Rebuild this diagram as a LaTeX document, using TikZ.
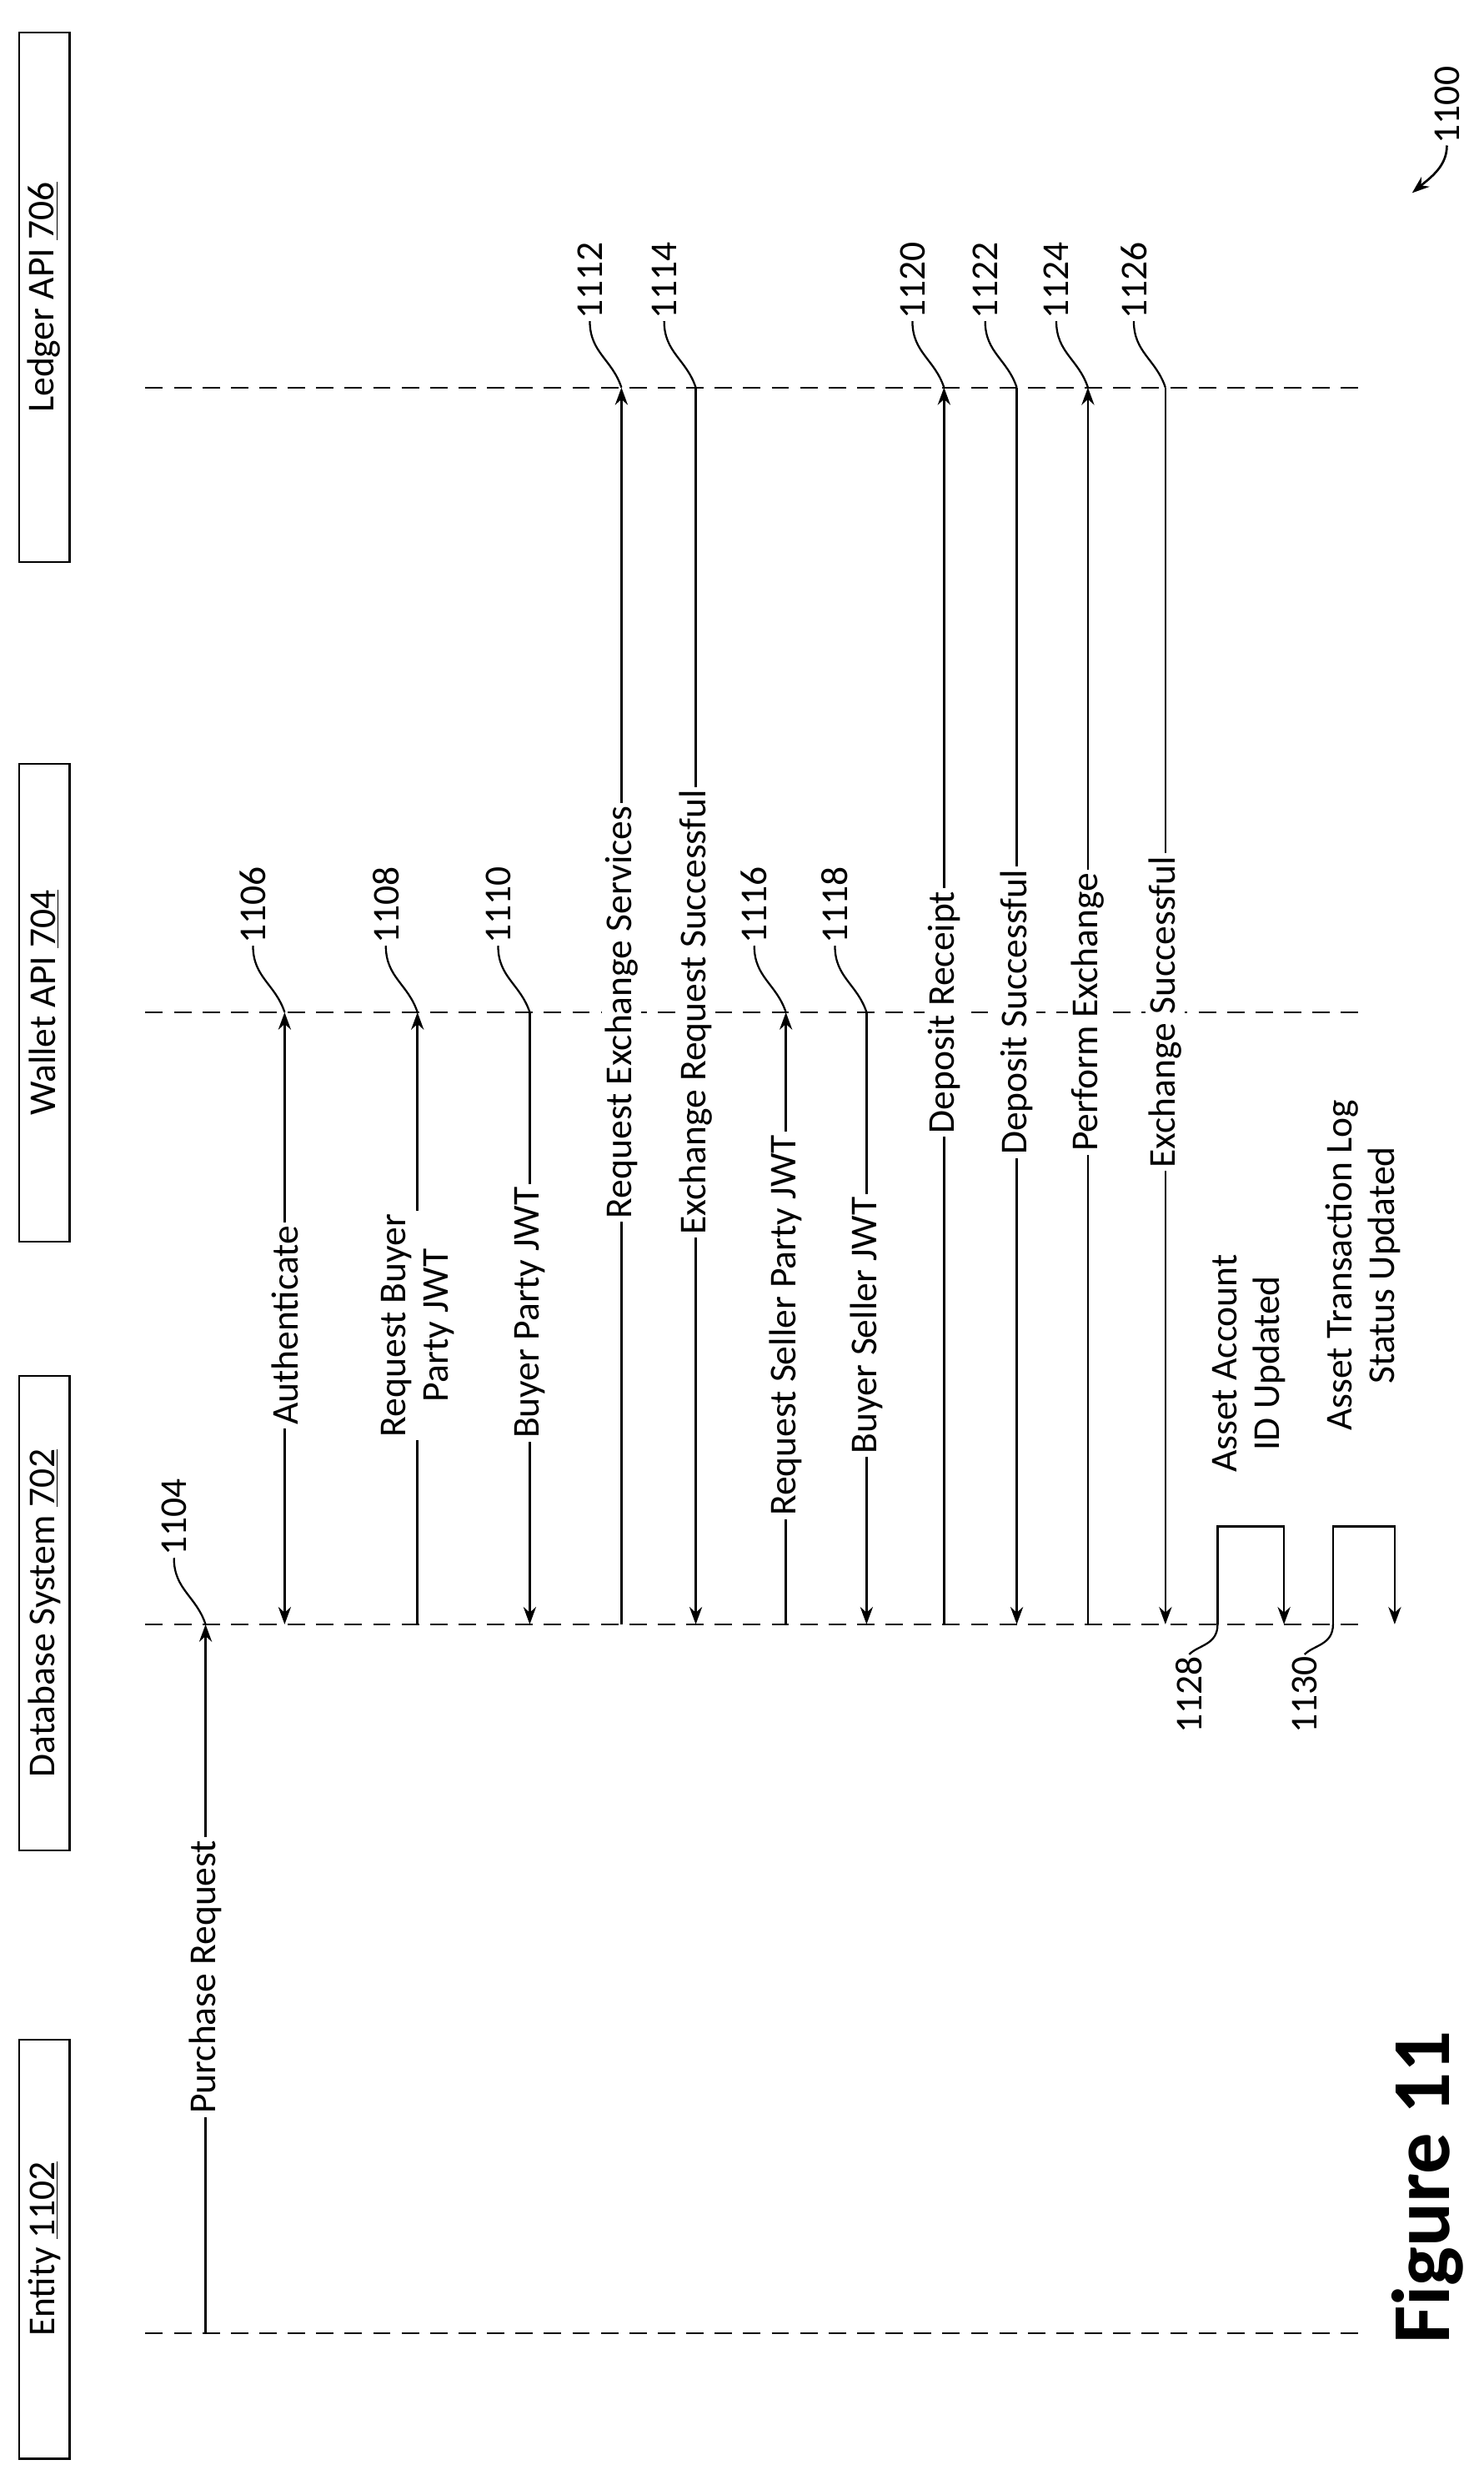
\documentclass[tikz,border=0pt]{standalone}
\usepackage{fontspec}
\setmainfont{Carlito}
\usetikzlibrary{arrows.meta}
\begin{document}
\begin{tikzpicture}[x=1pt,y=-1pt,
  life/.style={line width=1.2pt,dash pattern=on 11pt off 7pt},
  msg/.style={line width=1.4pt},
  arr/.style={-{Stealth[length=11pt,width=8pt]}},
  lab/.style={rotate=90,fill=white,inner sep=2pt,font=\fontsize{24}{27}\selectfont,align=center},
  num/.style={rotate=90,inner sep=1pt,font=\fontsize{24}{27}\selectfont},
  box/.style={rotate=90,draw,line width=1.2pt,minimum height=32pt,inner sep=3pt,font=\fontsize{24}{27}\selectfont}]
\useasboundingbox (0,0) rectangle (938,1568);
% boxes
\node[box,minimum width=335pt] (bL) at (28,188) {Ledger API \underline{706}};
\node[box,minimum width=302pt] (bW) at (28,634) {Wallet API \underline{704}};
\node[box,minimum width=300pt] (bD) at (28,1020) {Database System \underline{702}};
\node[box,minimum width=265pt] (bE) at (28,1422) {Entity \underline{1102}};
% lifelines
\coordinate (L0) at (92,245); \coordinate (L1) at (862,245);
\coordinate (W0) at (92,640); \coordinate (W1) at (862,640);
\coordinate (D0) at (92,1027); \coordinate (D1) at (862,1027);
\coordinate (E0) at (92,1475); \coordinate (E1) at (862,1475);
\draw[life] (L0)--(L1); \draw[life] (W0)--(W1); \draw[life] (D0)--(D1); \draw[life] (E0)--(E1);
% messages
\newcommand{\msgline}[6]{% x, from y, to y, label pos y, label, arrowstyle
  \coordinate (m#1a) at (#1,#2); \coordinate (m#1b) at (#1,#3);
  \draw[msg,#6] (m#1a)--(m#1b);
  \node[lab] (t#1) at (#1,#4) {#5};}
\msgline{130}{1475}{1027}{1250}{Purchase Request}{arr}
\msgline{180}{838}{1027}{838}{Authenticate}{arr}
\draw[msg,arr] (180,838)--(180,640);
\node[lab] at (180,838) {Authenticate};
\msgline{264}{1027}{640}{838}{Request Buyer\\Party JWT}{arr}
\msgline{335}{640}{1027}{830}{Buyer Party JWT}{arr}
\msgline{393}{1027}{245}{640}{Request Exchange Services}{arr}
\msgline{440}{245}{1027}{640}{Exchange Request Successful}{arr}
\msgline{497}{1027}{640}{838}{Request Seller Party JWT}{arr}
\msgline{548}{640}{1027}{838}{Buyer Seller JWT}{arr}
\msgline{597}{1027}{245}{640}{Deposit Receipt}{arr}
\msgline{643}{245}{1027}{640}{Deposit Successful}{arr}
\msgline{688}{1027}{245}{640}{Perform Exchange}{arr}
\msgline{737}{245}{1027}{640}{Exchange Successful}{arr}
% self loops
\coordinate (s1a) at (770,1027); \coordinate (s1b) at (812,1027);
\draw[msg,arr] (s1a)--(770,965)--(812,965)--(s1b);
\node[lab,fill=none] (t1128) at (790,862) {Asset Account\\ID Updated};
\coordinate (s2a) at (843,1027); \coordinate (s2b) at (882,1027);
\draw[msg,arr] (s2a)--(843,965)--(882,965)--(s2b);
\node[lab,fill=none] (t1130) at (862,800) {Asset Transaction Log\\Status Updated};
% reference numbers
\newcommand{\refnum}[3]{% x, lifeline y, number
  \node[num,anchor=west] (n#3) at (#1-20,#2-42) {#3};
  \draw[line width=1.2pt] (#1,#2) .. controls (#1-6,#2-18) and (#1-20,#2-22) .. (n#3.west);}
\refnum{130}{1027}{1104}
\refnum{180}{640}{1106}
\refnum{264}{640}{1108}
\refnum{335}{640}{1110}
\refnum{393}{245}{1112}
\refnum{440}{245}{1114}
\refnum{497}{640}{1116}
\refnum{548}{640}{1118}
\refnum{597}{245}{1120}
\refnum{643}{245}{1122}
\refnum{688}{245}{1124}
\refnum{737}{245}{1126}
\node[num,anchor=east] (n1128) at (752,1046) {1128};
\draw[line width=1.2pt] (s1a) .. controls (770,1040) and (758,1040) .. (n1128.east);
\node[num,anchor=east] (n1130) at (825,1046) {1130};
\draw[line width=1.2pt] (s2a) .. controls (843,1040) and (831,1040) .. (n1130.east);
% 1100
\node[num,anchor=west] (n1100) at (915,92) {1100};
\draw[line width=1.4pt,arr] (n1100.west) .. controls (915,105) and (905,112) .. (893,122);
% figure label
\node[rotate=90,font=\fontsize{52}{60}\selectfont\bfseries] (fig) at (903,1383) {Figure 11};
\end{tikzpicture}
\end{document}
